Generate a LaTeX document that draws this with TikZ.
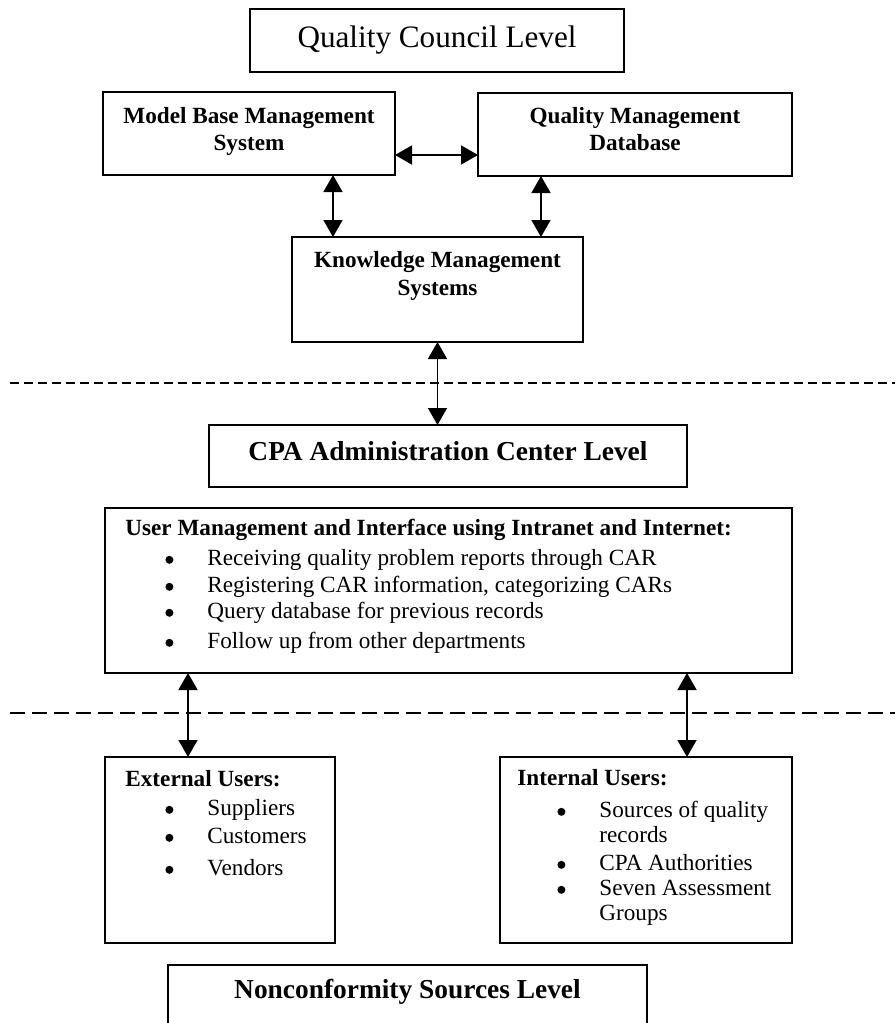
\documentclass[tikz,border=0pt]{standalone}
\usepackage{fontspec}
\setmainfont{Liberation Serif}
\usetikzlibrary{arrows.meta,positioning}
\tikzset{
  box/.style={draw, line width=0.85pt, inner sep=0pt, outer sep=0pt},
  ttl/.style={font=\fontsize{11.6}{13.5}\selectfont\bfseries, align=center, anchor=base, inner sep=0pt},
  lvl/.style={font=\fontsize{13.7}{16}\selectfont\bfseries, anchor=base, inner sep=0pt},
  lst/.style={font=\fontsize{11.6}{12.5}\selectfont, align=left, anchor=base west, inner sep=0pt},
  dbl/.style={>={Triangle[length=8.5pt,width=9.5pt]}, <->, line width=0.75pt},
  sepA/.style={line width=0.75pt, dash pattern=on 4.5pt off 2.5pt},
  sepB/.style={line width=0.75pt, dash pattern=on 7.5pt off 3.5pt}
}
\newcommand{\bitem}{\hspace*{20pt}\makebox[21pt][l]{\tikz[baseline]\fill (0,2.6pt) circle (2pt);}}
\begin{document}
\begin{tikzpicture}[x=0.5pt,y=-0.5pt]
  \useasboundingbox (0,0) rectangle (895,1023);
  \clip (0,0) rectangle (895,1023);
  % quality council level
  \node[box, minimum width=187pt, minimum height=31.5pt, font=\fontsize{15.6}{18}\selectfont] (qcl) at (437,40.5) {Quality Council Level};
  \node[box, minimum width=146pt, minimum height=41.5pt] (mbms) at (249,133.5) {};
  \node[box, minimum width=157pt, minimum height=41.5pt] (qmd) at (635,134.5) {};
  \node[box, minimum width=145.5pt, minimum height=52.5pt] (kms) at (437.5,289.5) {};
  % text nodes sit on the baseline of their last line
  \node[ttl] (mbmsT) at (249,150) {Model Base Management\\System};
  \node[ttl] (qmdT) at (635,150) {Quality Management\\Database};
  \node[ttl, font=\fontsize{11.6}{14}\selectfont\bfseries] (kmsT) at (437.5,295) {Knowledge Management\\Systems};
  \coordinate (h1) at ([yshift=10pt]mbms.south east);
  \coordinate (v1) at ([xshift=20.5pt]kms.north west);
  \coordinate (v2) at ([xshift=-21pt]kms.north east);
  \draw[dbl] (h1) -- (qmd.west |- h1);
  \draw[dbl] (mbms.south -| v1) -- (v1);
  \draw[dbl] (qmd.south -| v2) -- (v2);
  \draw[sepA] (10,383) -- (895,383);
  % CPA administration center level
  \node[box, minimum width=239pt, minimum height=31pt] (cpa) at (448,456) {};
  \node[lvl] (cpaT) at (448,460) {CPA Administration Center Level};
  \draw[dbl] (kms.south) -- (cpa.north -| kms.south);
  \node[box, minimum width=343.5pt, minimum height=82.5pt] (um) at (448.5,590.5) {};
  \node[lst] (umT) at (125,648) {\textbf{User Management and Interface using Intranet and Internet:}\\[2.5pt]
    \bitem Receiving quality problem reports through CAR\\[1pt]
    \bitem Registering CAR information, categorizing CARs\\[0.5pt]
    \bitem Query database for previous records\\[2.5pt]
    \bitem Follow up from other departments};
  \draw[sepB] (10,713) -- (895,713);
  % nonconformity sources level
  \node[box, minimum width=115pt, minimum height=93pt] (ext) at (220,850) {};
  \node[box, minimum width=146pt, minimum height=93pt] (int) at (646,850) {};
  \node[lst] (extT) at (125,875) {\textbf{External Users:}\\[2pt]
    \bitem Suppliers\\[1.5pt]
    \bitem Customers\\[3.5pt]
    \bitem Vendors};
  \node[lst] (intT) at (517,920) {\textbf{Internal Users:}\\[3.5pt]
    \bitem Sources of quality\\
    \hspace*{41pt}records\\[1.5pt]
    \bitem CPA Authorities\\
    \bitem Seven Assessment\\
    \hspace*{41pt}Groups};
  \coordinate (v3) at ([xshift=41.5pt]ext.north west);
  \coordinate (v4) at ([xshift=93.5pt]int.north west);
  \draw[dbl] (um.south -| v3) -- (v3);
  \draw[dbl] (um.south -| v4) -- (v4);
  \node[box, minimum width=239.5pt, minimum height=40pt] (nsl) at (407.5,1005) {};
  \node[lvl] (nslT) at (407.5,998) {Nonconformity Sources Level};
\end{tikzpicture}
\end{document}
